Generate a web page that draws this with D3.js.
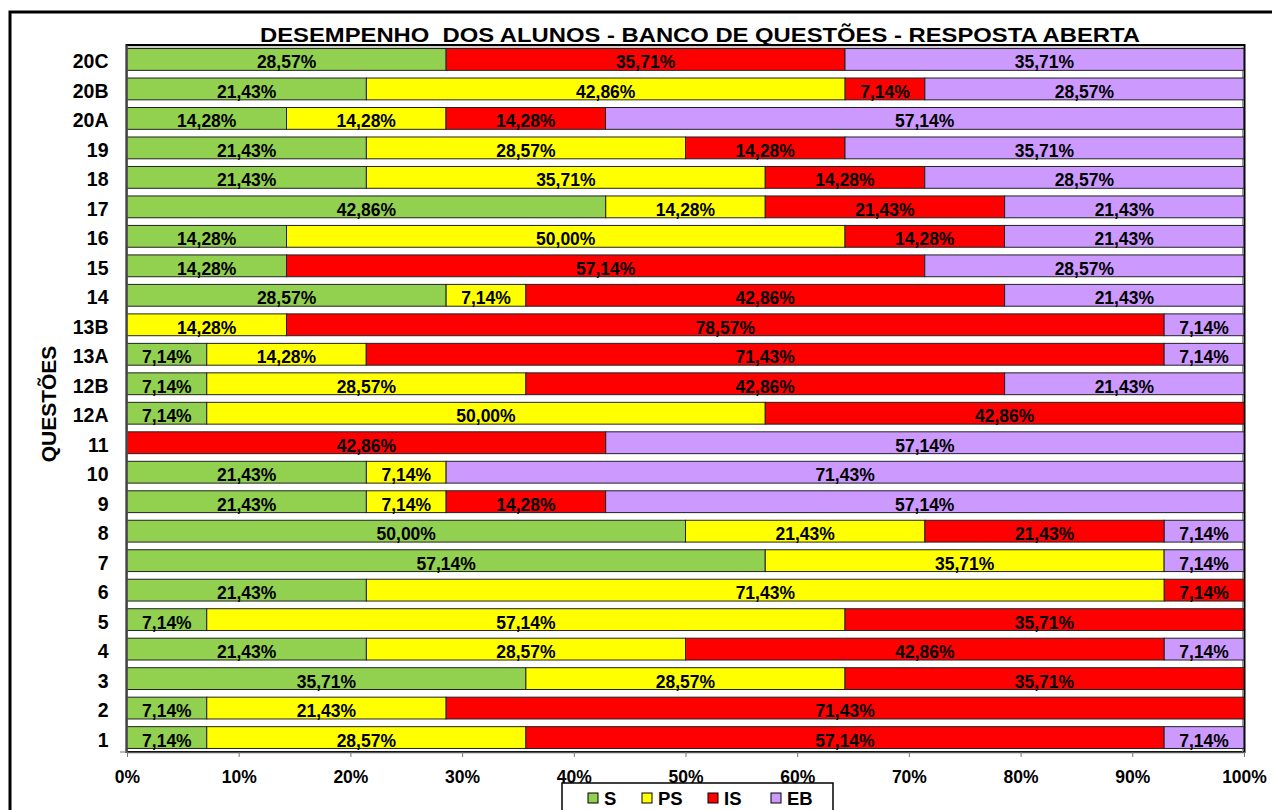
<!DOCTYPE html>
<html>
<head>
<meta charset="utf-8">
<script src="https://cdn.jsdelivr.net/npm/d3@7"></script>
<style>
  html, body { margin: 0; padding: 0; background: #fff; }
  svg { display: block; font-family: Arial, "Liberation Sans", sans-serif; }
</style>
</head>
<body>
<svg id="chart" width="1272" height="810"></svg>
<script>
// Questions, top row first
const questions = ["20C","20B","20A","19","18","17","16","15","14","13B","13A","12B","12A","11","10","9","8","7","6","5","4","3","2","1"];

// Share of students (%) per performance level, same order as questions
const S  = [28.57,21.43,14.28,21.43,21.43,42.86,14.28,14.28,28.57, 0.00, 7.14, 7.14, 7.14, 0.00,21.43,21.43,50.00,57.14,21.43, 7.14,21.43,35.71, 7.14, 7.14];
const PS = [ 0.00,42.86,14.28,28.57,35.71,14.28,50.00, 0.00, 7.14,14.28,14.28,28.57,50.00, 0.00, 7.14, 7.14,21.43,35.71,71.43,57.14,28.57,28.57,21.43,28.57];
const IS = [35.71, 7.14,14.28,14.28,14.28,21.43,14.28,57.14,42.86,78.57,71.43,42.86,42.86,42.86, 0.00,14.28,21.43, 0.00, 7.14,35.71,42.86,35.71,71.43,57.14];
const EB = [35.71,28.57,57.14,35.71,28.57,21.43,21.43,28.57,21.43, 7.14, 7.14,21.43, 0.00,57.14,71.43,57.14, 7.14, 7.14, 0.00, 0.00, 7.14, 0.00, 0.00, 7.14];

const seriesNames  = ["S","PS","IS","EB"];
const seriesColors = ["#92D050","#FFFF00","#FF0000","#CC99FF"];
const xTicks = [0,10,20,30,40,50,60,70,80,90,100];

const titleText = "DESEMPENHO  DOS ALUNOS - BANCO DE QUESTÕES - RESPOSTA ABERTA";
const yTitle = "QUESTÕES";

const svg = d3.select("#chart");
const plot = { left: 127, right: 1244, top: 45, bottom: 752 };

const x = d3.scaleLinear().domain([0, 100]).range([plot.left, plot.right]);
const y = d3.scaleBand().domain(questions).range([plot.top, plot.bottom])
  .paddingInner(0.26).paddingOuter(0.12);

const fmt = v => v.toFixed(2).replace(".", ",") + "%";

// Outer chart frame
svg.append("rect")
  .attr("x", 10).attr("y", 12).attr("width", 1400).attr("height", 1000)
  .attr("fill", "none").attr("stroke", "#000").attr("stroke-width", 3);

// Plot area frame
svg.append("rect")
  .attr("x", plot.left - 0.5).attr("y", plot.top)
  .attr("width", plot.right - plot.left + 1).attr("height", plot.bottom - plot.top)
  .attr("fill", "#fff").attr("stroke", "#000").attr("stroke-width", 2);
svg.append("path")
  .attr("d", `M${plot.left},${plot.top + 2}H${plot.right - 1.5}V${plot.bottom}`)
  .attr("fill", "none").attr("stroke", "#999").attr("stroke-width", 1);

// Stack the series
const table = questions.map((q, i) => ({ q, S: S[i], PS: PS[i], IS: IS[i], EB: EB[i] }));
const stacked = d3.stack().keys(seriesNames)(table);

const layers = svg.append("g").selectAll("g")
  .data(stacked).join("g")
  .attr("fill", (d, i) => seriesColors[i]);

layers.selectAll("rect")
  .data(d => d.filter(s => s[1] - s[0] > 0))
  .join("rect")
  .attr("x", d => x(d[0]))
  .attr("y", d => y(d.data.q))
  .attr("width", d => x(d[1]) - x(d[0]))
  .attr("height", y.bandwidth())
  .attr("stroke", "#222").attr("stroke-width", 1);

// Value labels centred in each segment
const labels = svg.append("g")
  .attr("font-size", 17.5).attr("font-weight", "bold").attr("text-anchor", "middle").attr("fill", "#000");
stacked.forEach(layer => {
  layer.filter(s => s[1] - s[0] > 0).forEach(s => {
    labels.append("text")
      .attr("x", (x(s[0]) + x(s[1])) / 2)
      .attr("y", y(s.data.q) + y.bandwidth() / 2 + 9)
      .text(fmt(s.data[layer.key]));
  });
});

// Category axis
const yAxis = svg.append("g").attr("transform", `translate(${plot.left - 0.5},0)`)
  .call(d3.axisLeft(y).tickSize(0).tickPadding(18));
yAxis.select(".domain").attr("stroke", "#555").attr("stroke-width", 1.5);
yAxis.selectAll(".tick text")
  .attr("font-size", 19.5).attr("font-weight", "bold").attr("fill", "#000")
  .attr("font-family", "Arial, 'Liberation Sans', sans-serif")
  .attr("dy", null).attr("y", 9);

// Value axis
const xAxis = svg.append("g").attr("transform", `translate(0,${plot.bottom})`)
  .call(d3.axisBottom(x).tickValues(xTicks).tickFormat(d => d + "%").tickSize(5).tickPadding(14).tickSizeOuter(0));
xAxis.select(".domain").attr("stroke", "#555").attr("stroke-width", 1.5);
xAxis.selectAll(".tick line").attr("stroke", "#777");
xAxis.selectAll(".tick text")
  .attr("font-size", 17.5).attr("font-weight", "bold").attr("fill", "#000")
  .attr("font-family", "Arial, 'Liberation Sans', sans-serif");
svg.append("line")
  .attr("x1", plot.left - 7).attr("x2", plot.left).attr("y1", plot.bottom).attr("y2", plot.bottom)
  .attr("stroke", "#777");

// Title
svg.append("text")
  .attr("x", 260).attr("y", 42)
  .attr("font-size", 21).attr("font-weight", "bold")
  .attr("textLength", 880).attr("lengthAdjust", "spacingAndGlyphs")
  .style("white-space", "pre")
  .text(titleText);

// Axis title
svg.append("text")
  .attr("transform", "translate(56,404) rotate(-90)")
  .attr("text-anchor", "middle")
  .attr("font-size", 21).attr("font-weight", "bold")
  .text(yTitle);

// Legend
svg.append("rect")
  .attr("x", 562).attr("y", 783).attr("width", 271).attr("height", 60)
  .attr("fill", "#fff").attr("stroke", "#000").attr("stroke-width", 1.5);
const legendX = [588, 642, 708, 771];
const legend = svg.append("g").selectAll("g")
  .data(seriesNames).join("g")
  .attr("transform", (d, i) => `translate(${legendX[i]},793)`);
legend.append("rect")
  .attr("width", 10).attr("height", 10)
  .attr("fill", (d, i) => seriesColors[i]).attr("stroke", "#000");
legend.append("text")
  .attr("x", 16).attr("y", 12)
  .attr("font-size", 18.5).attr("font-weight", "bold")
  .text(d => d);
</script>
</body>
</html>
